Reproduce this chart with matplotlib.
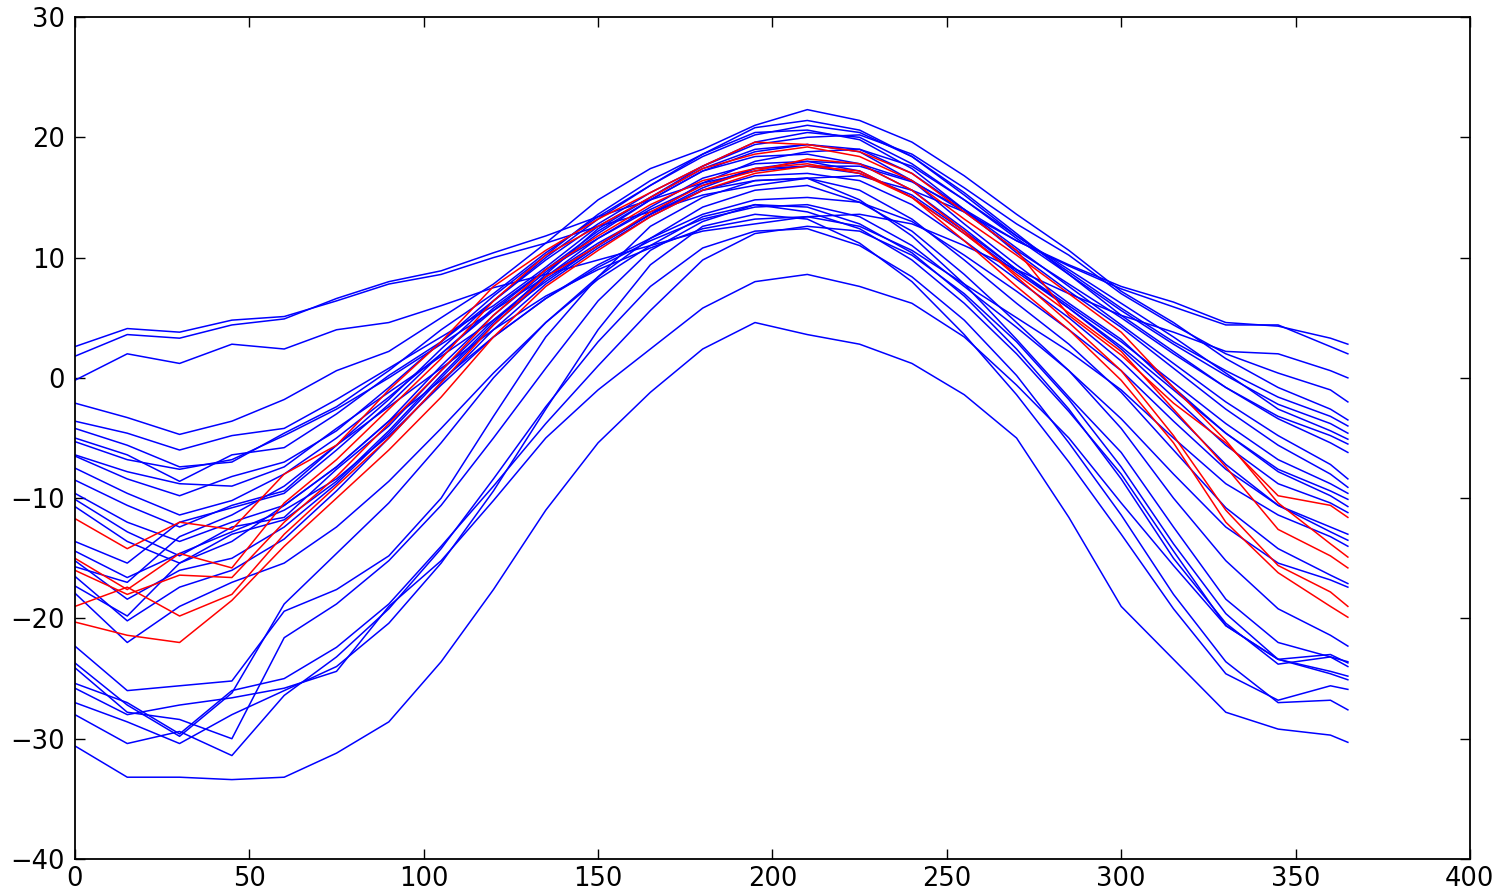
import matplotlib
matplotlib.use("Agg")
from matplotlib import pyplot as plt

# sample days (read every 15 days off the picture, plus day 365)
days = [0, 15, 30, 45, 60, 75, 90, 105, 120, 135, 150, 165, 180,
        195, 210, 225, 240, 255, 270, 285, 300, 315, 330, 345, 360, 365]

# mild coastal stations
coast_1 = [2.6, 4.1, 3.8, 4.8, 5.1, 6.4, 7.8, 8.6, 10.0, 11.2, 12.6, 13.8, 15.2,
           16.0, 16.6, 16.8, 15.6, 13.8, 11.4, 9.4, 7.6, 6.3, 4.6, 4.3, 3.3, 2.8]
coast_2 = [1.8, 3.6, 3.3, 4.4, 4.9, 6.6, 8.0, 8.9, 10.4, 11.8, 13.4, 14.8, 16.2,
           17.2, 17.6, 17.6, 16.3, 14.0, 11.4, 9.3, 7.4, 5.9, 4.4, 4.4, 2.6, 2.0]
coast_3 = [-0.2, 2.0, 1.2, 2.8, 2.4, 4.0, 4.6, 6.0, 7.5, 8.6, 9.8, 11.0, 12.2,
           12.8, 13.4, 13.6, 12.8, 11.0, 9.0, 7.0, 5.2, 3.8, 2.2, 2.0, 0.6, 0.0]

# temperate stations
temp_1 = [-2.1, -3.3, -4.7, -3.6, -1.8, 0.6, 2.2, 5.0, 7.8, 11.2, 14.8, 17.4, 19.0,
          21.0, 22.3, 21.4, 19.6, 16.8, 13.6, 10.6, 7.2, 4.6, 1.6, -0.8, -2.6, -3.5]
temp_2 = [-3.6, -4.6, -6.0, -4.8, -4.2, -1.8, 0.8, 3.4, 6.0, 9.2, 12.6, 15.0, 17.6,
          19.4, 20.0, 20.2, 18.6, 15.8, 12.8, 10.2, 7.0, 4.4, 2.0, 0.4, -1.0, -2.0]
temp_3 = [-4.2, -5.6, -7.4, -7.0, -4.6, -2.4, 0.6, 4.0, 7.0, 10.4, 13.4, 16.0, 18.4,
          20.2, 21.0, 20.4, 18.4, 15.2, 11.8, 8.8, 5.8, 3.0, 0.6, -1.6, -3.2, -4.0]
temp_4 = [-5.0, -6.4, -8.6, -6.4, -5.8, -3.0, 0.2, 3.0, 6.4, 9.8, 12.8, 15.4, 17.6,
          19.6, 20.4, 20.0, 17.8, 14.8, 11.6, 8.6, 5.6, 2.8, 0.2, -2.2, -3.8, -4.6]
temp_5 = [-5.3, -6.8, -7.6, -6.8, -4.8, -2.6, 0.0, 2.8, 5.6, 8.4, 11.2, 13.6, 16.2,
          18.0, 18.8, 19.0, 17.6, 14.8, 11.8, 9.0, 6.2, 3.4, 0.4, -2.6, -4.4, -5.1]
temp_6 = [-6.4, -7.8, -8.8, -9.0, -7.4, -4.2, -1.2, 1.8, 4.8, 8.0, 11.0, 13.6, 15.8,
          17.4, 18.0, 17.8, 16.4, 13.8, 10.6, 7.8, 5.0, 2.0, -0.8, -3.2, -4.8, -5.5]
temp_7 = [-6.5, -8.4, -9.8, -8.2, -7.0, -4.4, -0.8, 3.0, 6.8, 10.2, 13.6, 16.4, 18.6,
          20.8, 21.4, 20.6, 18.4, 15.4, 12.0, 8.6, 5.2, 2.2, -0.8, -3.4, -5.4, -6.2]
temp_8 = [-7.5, -9.6, -11.4, -10.2, -8.0, -5.0, -1.6, 2.0, 5.6, 9.0, 12.2, 14.8, 17.2,
          18.8, 19.4, 19.0, 17.0, 14.0, 10.8, 7.6, 4.4, 1.2, -2.0, -4.8, -7.2, -8.4]
temp_9 = [-8.5, -10.6, -12.4, -10.6, -9.4, -5.6, -1.8, 2.4, 6.4, 10.0, 13.2, 16.0, 18.6,
          20.4, 20.6, 19.8, 17.4, 14.0, 10.4, 7.2, 4.2, 0.8, -2.6, -5.6, -8.0, -9.1]
temp_10 = [-9.6, -12.0, -13.6, -12.0, -10.6, -7.4, -3.6, 1.0, 5.2, 8.8, 12.0, 14.8, 17.2,
           18.4, 18.6, 17.8, 15.6, 12.4, 9.0, 6.0, 3.0, -0.4, -3.8, -6.8, -8.8, -9.6]
temp_11 = [-10.1, -12.8, -14.8, -12.4, -11.6, -7.6, -4.0, 0.6, 4.8, 8.4, 11.6, 14.2, 16.6,
           17.8, 18.0, 17.2, 15.0, 12.0, 8.8, 5.8, 2.6, -1.0, -4.6, -7.6, -9.4, -10.1]
temp_12 = [-10.7, -13.6, -15.4, -13.0, -11.8, -8.6, -4.4, 0.2, 4.6, 8.6, 12.4, 15.0, 17.4,
           19.0, 19.4, 18.8, 16.4, 12.8, 9.4, 6.2, 3.2, -0.8, -4.6, -7.8, -9.8, -10.7]

# colder inland stations
cold_1 = [-13.6, -15.4, -12.0, -10.8, -9.6, -6.0, -2.2, 2.0, 5.8, 9.0, 11.6, 14.0, 16.0,
          17.4, 17.6, 17.0, 15.2, 12.2, 9.0, 5.8, 2.4, -1.6, -5.6, -8.8, -10.4, -11.2]
cold_2 = [-14.4, -16.6, -14.6, -12.8, -11.0, -8.4, -4.8, -0.6, 3.4, 6.6, 9.4, 11.6, 13.6,
          14.8, 15.0, 14.6, 13.0, 10.2, 7.2, 4.0, 0.6, -3.6, -7.6, -10.6, -12.4, -13.0]
cold_3 = [-15.2, -18.4, -16.0, -15.0, -12.4, -8.8, -4.6, 0.0, 4.4, 8.2, 11.0, 13.6, 15.6,
          16.8, 17.0, 16.4, 14.4, 11.4, 8.2, 5.0, 1.4, -2.8, -7.2, -10.6, -12.8, -13.5]
cold_4 = [-15.7, -17.0, -13.2, -11.4, -9.0, -5.6, -2.4, 0.8, 4.0, 6.8, 9.0, 10.8, 12.4,
          13.2, 13.4, 12.6, 10.6, 7.8, 5.0, 2.2, -1.0, -5.0, -8.8, -11.4, -13.2, -14.0]
cold_5 = [-16.5, -20.2, -17.4, -16.0, -13.4, -9.4, -5.0, -0.4, 4.0, 7.8, 10.8, 13.4, 15.6,
          16.4, 16.6, 15.6, 13.2, 9.8, 6.2, 2.8, -1.2, -6.0, -10.8, -14.2, -16.4, -17.1]
cold_6 = [-17.3, -19.8, -15.4, -13.6, -10.6, -7.4, -3.6, -0.2, 3.4, 6.6, 9.2, 11.4, 13.2,
          14.2, 14.4, 13.4, 11.0, 7.6, 4.2, 0.6, -3.4, -8.0, -12.4, -15.4, -16.8, -17.4]

# northern stations
north_1 = [-17.9, -22.0, -19.0, -17.0, -15.4, -12.4, -8.6, -4.2, 0.4, 4.6, 8.4, 11.6, 14.2,
           15.6, 16.0, 14.6, 12.2, 8.6, 4.6, 0.6, -4.2, -10.0, -15.2, -19.2, -21.4, -22.3]
north_2 = [-22.3, -26.0, -25.6, -25.2, -19.4, -17.6, -14.8, -10.0, -3.2, 3.4, 8.4, 12.6, 15.0,
           16.4, 16.6, 14.8, 11.8, 7.8, 3.2, -1.6, -6.2, -12.4, -18.4, -22.0, -23.2, -23.6]
north_3 = [-23.7, -27.2, -29.8, -26.2, -18.8, -14.6, -10.4, -5.4, 0.0, 4.6, 8.2, 11.0, 13.4,
           14.4, 13.8, 12.4, 9.8, 6.2, 2.0, -2.8, -8.0, -14.4, -20.6, -23.4, -23.0, -23.7]
north_4 = [-24.1, -27.8, -28.4, -30.0, -21.6, -18.8, -15.2, -10.6, -5.0, 0.8, 6.4, 10.6, 13.0,
           14.4, 14.2, 12.8, 10.4, 6.8, 2.4, -2.6, -8.4, -15.0, -20.4, -23.8, -23.2, -24.0]
north_5 = [-25.4, -27.0, -29.6, -26.0, -25.0, -22.4, -18.8, -14.0, -9.0, -3.8, 1.0, 5.6, 9.8,
           12.0, 12.6, 12.2, 10.2, 7.0, 3.0, -1.8, -7.4, -13.8, -19.6, -23.4, -24.4, -24.8]
north_6 = [-27.0, -28.6, -30.4, -28.0, -26.0, -24.0, -20.4, -15.4, -9.4, -2.6, 4.0, 9.4, 12.6,
           13.6, 13.2, 11.2, 8.0, 3.6, -1.4, -7.0, -13.0, -19.2, -24.6, -26.8, -25.6, -25.9]
north_7 = [-28.0, -30.4, -29.4, -31.4, -26.4, -23.2, -19.2, -14.2, -8.4, -2.4, 3.0, 7.6, 10.8,
           12.2, 12.4, 11.0, 8.4, 4.8, 0.2, -5.4, -11.4, -18.0, -23.6, -27.0, -26.8, -27.6]
north_8 = [-25.8, -28.0, -27.2, -26.6, -25.8, -24.4, -19.0, -15.2, -10.2, -5.0, -1.0, 2.4, 5.8,
           8.0, 8.6, 7.6, 6.2, 3.4, -0.6, -5.0, -10.4, -15.6, -20.6, -23.4, -24.6, -25.1]
north_9 = [-30.6, -33.2, -33.2, -33.4, -33.2, -31.2, -28.6, -23.6, -17.6, -11.0, -5.4, -1.2, 2.4,
           4.6, 3.6, 2.8, 1.2, -1.4, -5.0, -11.6, -19.0, -23.4, -27.8, -29.2, -29.7, -30.3]

# highlighted group (red)
red_1 = [-11.7, -14.2, -12.0, -12.6, -8.0, -5.6, -1.0, 3.0, 7.6, 10.6, 13.2, 15.4, 17.6,
         19.6, 19.4, 18.8, 17.0, 13.8, 10.6, 5.2, 1.9, -2.1, -5.4, -9.8, -10.6, -11.6]
red_2 = [-15.0, -17.6, -14.6, -15.8, -10.4, -6.8, -2.6, 1.6, 6.4, 10.2, 12.6, 15.0, 17.4,
         18.6, 19.2, 18.4, 16.4, 13.2, 10.2, 7.0, 3.8, -0.8, -5.2, -10.4, -13.8, -14.9]
red_3 = [-16.0, -18.0, -16.4, -16.6, -12.0, -8.2, -3.8, 0.6, 5.2, 9.0, 11.8, 14.4, 16.4,
         17.4, 17.8, 17.0, 15.0, 12.0, 8.6, 5.4, 2.2, -2.6, -7.4, -12.6, -14.8, -15.8]
red_4 = [-19.0, -17.4, -19.8, -18.0, -13.0, -9.0, -5.0, -0.4, 4.4, 8.4, 11.0, 13.8, 16.0,
         17.2, 18.2, 17.8, 15.6, 12.2, 8.4, 4.6, 0.6, -4.8, -11.0, -15.6, -17.8, -19.0]
red_5 = [-20.3, -21.4, -22.0, -18.5, -14.0, -10.0, -6.0, -1.6, 3.4, 7.6, 10.6, 13.4, 15.6,
         17.0, 17.6, 17.2, 15.0, 11.4, 7.6, 4.0, -0.2, -5.4, -12.0, -16.2, -19.0, -19.9]

blue_curves = [coast_1, coast_2, coast_3,
               temp_1, temp_2, temp_3, temp_4, temp_5, temp_6,
               temp_7, temp_8, temp_9, temp_10, temp_11, temp_12,
               cold_1, cold_2, cold_3, cold_4, cold_5, cold_6,
               north_1, north_2, north_3, north_4, north_5, north_6,
               north_7, north_8, north_9]
red_curves = [red_1, red_2, red_3, red_4, red_5]

plt.rcParams['font.family'] = ['DejaVu Sans']

fig = plt.figure(figsize=(15.05, 8.96), dpi=100)
ax = fig.add_axes([0.0498, 0.0413, 0.9269, 0.9397])

for c in blue_curves:
    ax.plot(days, c, color='#0000ff', lw=1.1)
for c in red_curves:
    ax.plot(days, c, color='#ff0000', lw=1.1)

ax.set_xlim(0, 400)
ax.set_ylim(-40, 30)
ax.set_xticks(range(0, 401, 50))
ax.set_yticks(range(-40, 31, 10))
ax.tick_params(direction='in', length=7, width=1, top=True, right=True,
               labelsize=18.5)
ax.tick_params(axis='x', pad=5)
ax.tick_params(axis='y', pad=7)
for s in ax.spines.values():
    s.set_linewidth(1.3)

fig.savefig('out.png', dpi=100)
